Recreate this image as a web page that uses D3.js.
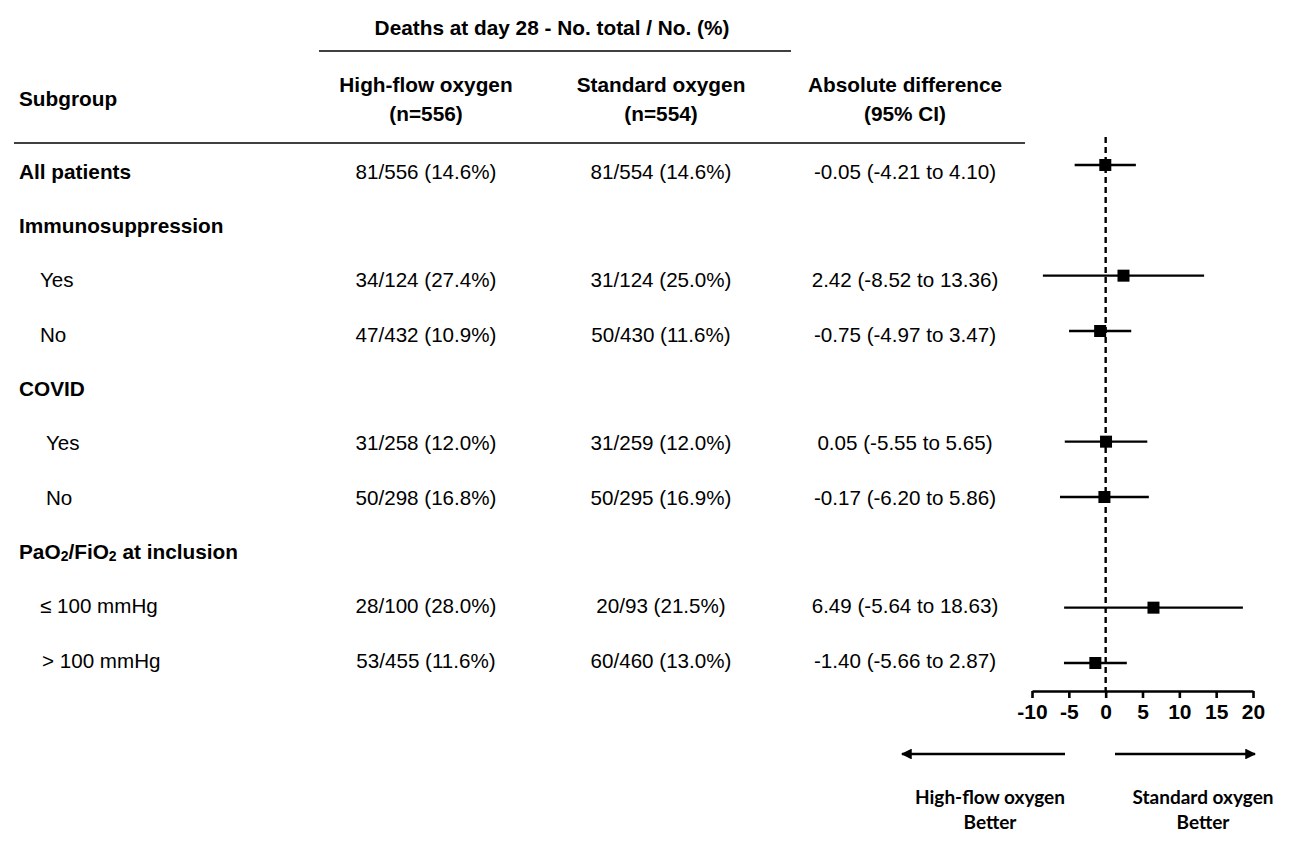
<!DOCTYPE html>
<html><head><meta charset="utf-8">
<script src="https://cdn.jsdelivr.net/npm/d3@7"></script>
<style>body{margin:0;background:#fff}svg{display:block}</style>
</head><body>
<svg id="c" width="1300" height="844"></svg>
<script>
const labels = ["All patients","Immunosuppression","Yes","No","COVID","Yes","No","PaO2/FiO2 at inclusion","≤ 100 mmHg","> 100 mmHg"];
const isHeader = [true,true,false,false,true,false,false,true,false,false];
const indent = [0,0,21,21,0,27,27,0,21,23];
const hfoDeaths = [81,null,34,47,null,31,50,null,28,53];
const hfoTotal  = [556,null,124,432,null,258,298,null,100,455];
const stdDeaths = [81,null,31,50,null,31,50,null,20,60];
const stdTotal  = [554,null,124,430,null,259,295,null,93,460];
const estimate  = [-0.05,null,2.42,-0.75,null,0.05,-0.17,null,6.49,-1.40];
const lower     = [-4.21,null,-8.52,-4.97,null,-5.55,-6.20,null,-5.64,-5.66];
const upper     = [4.10,null,13.36,3.47,null,5.65,5.86,null,18.63,2.87];
const ticks = [-10,-5,0,5,10,15,20];

const svg = d3.select("#c");
const F = "'Liberation Sans', Arial, sans-serif";
const FS = 20.6, FB = 20.8;
const x = d3.scaleLinear().domain([-10,20]).range([1032,1253]);
const y = d3.scalePoint().domain(d3.range(labels.length)).range([171,660]);
const yMark = d3.scalePoint().domain(d3.range(labels.length)).range([165,663]);

// headers
svg.append("text").attr("x",552).attr("y",27).attr("text-anchor","middle").attr("dominant-baseline","central")
  .attr("font-family",F).attr("font-weight","bold").attr("font-size",FB).text("Deaths at day 28 - No. total / No. (%)");
svg.append("line").attr("x1",319).attr("x2",791).attr("y1",51).attr("y2",51).attr("stroke","#000").attr("stroke-width",1.6);
svg.append("text").attr("x",19).attr("y",98).attr("dominant-baseline","central")
  .attr("font-family",F).attr("font-weight","bold").attr("font-size",FB).text("Subgroup");
const heads = [[426,"High-flow oxygen","(n=556)"],[661,"Standard oxygen","(n=554)"],[905,"Absolute difference","(95% CI)"]];
heads.forEach(h=>{
  svg.append("text").attr("x",h[0]).attr("y",84).attr("text-anchor","middle").attr("dominant-baseline","central")
    .attr("font-family",F).attr("font-weight","bold").attr("font-size",FB).text(h[1]);
  svg.append("text").attr("x",h[0]).attr("y",113).attr("text-anchor","middle").attr("dominant-baseline","central")
    .attr("font-family",F).attr("font-weight","bold").attr("font-size",FB).text(h[2]);
});
svg.append("line").attr("x1",14).attr("x2",1025).attr("y1",143).attr("y2",143).attr("stroke","#000").attr("stroke-width",1.6);

// rows
const pct = (a,b)=> `${a}/${b} (${(a/b*100).toFixed(1)}%)`;
labels.forEach((l,i)=>{
  const t = svg.append("text").attr("x",19+indent[i]).attr("y",y(i)).attr("dominant-baseline","central")
    .attr("font-family",F).attr("font-size",isHeader[i]?FB:FS).attr("font-weight",isHeader[i]?"bold":"normal");
  if (l.startsWith("PaO2")) {
    t.append("tspan").text("PaO");
    t.append("tspan").attr("font-size",14).attr("dy",5).text("2");
    t.append("tspan").attr("dy",-5).text("/FiO");
    t.append("tspan").attr("font-size",14).attr("dy",5).text("2");
    t.append("tspan").attr("dy",-5).text(" at inclusion");
  } else t.text(l);
  if (hfoDeaths[i]!=null) {
    svg.append("text").attr("x",426).attr("y",y(i)).attr("text-anchor","middle").attr("dominant-baseline","central")
      .attr("font-family",F).attr("font-size",FS).text(pct(hfoDeaths[i],hfoTotal[i]));
    svg.append("text").attr("x",661).attr("y",y(i)).attr("text-anchor","middle").attr("dominant-baseline","central")
      .attr("font-family",F).attr("font-size",FS).text(pct(stdDeaths[i],stdTotal[i]));
    svg.append("text").attr("x",905).attr("y",y(i)).attr("text-anchor","middle").attr("dominant-baseline","central")
      .attr("font-family",F).attr("font-size",FS)
      .text(`${estimate[i].toFixed(2)} (${lower[i].toFixed(2)} to ${upper[i].toFixed(2)})`);
  }
});

// zero line
svg.append("line").attr("x1",x(0)).attr("x2",x(0)).attr("y1",137).attr("y2",691)
  .attr("stroke","#000").attr("stroke-width",2.4).attr("stroke-dasharray","6,4");

// CIs & markers
const idx = d3.range(labels.length).filter(i=>estimate[i]!=null);
svg.selectAll("line.ci").data(idx).join("line").attr("class","ci")
  .attr("x1",i=>x(lower[i])).attr("x2",i=>x(upper[i])).attr("y1",i=>yMark(i)).attr("y2",i=>yMark(i))
  .attr("stroke","#000").attr("stroke-width",2.3);
svg.selectAll("rect.pt").data(idx).join("rect").attr("class","pt")
  .attr("x",i=>x(estimate[i])-6).attr("y",i=>yMark(i)-6).attr("width",12).attr("height",12).attr("fill","#000");

// axis
const ax = svg.append("g").attr("transform","translate(0,691)")
  .call(d3.axisBottom(x).tickValues(ticks).tickFormat(d=>String(d)).tickSize(7).tickSizeOuter(0).tickPadding(6));
ax.select(".domain").attr("stroke-width",2.6);
ax.selectAll(".tick line").attr("stroke-width",2.6);
ax.selectAll(".tick text").attr("font-family",F).attr("font-weight","bold").attr("font-size",21).attr("fill","#000");

// arrows
const defs = svg.append("defs");
defs.append("marker").attr("id","ah").attr("viewBox","0 0 10 10").attr("refX",9).attr("refY",5)
  .attr("markerWidth",4.5).attr("markerHeight",4.5).attr("markerUnits","strokeWidth").attr("orient","auto")
  .append("path").attr("d","M0,0L10,5L0,10Z").attr("fill","#000");
svg.append("line").attr("x1",1065).attr("x2",902).attr("y1",754).attr("y2",754).attr("stroke","#000").attr("stroke-width",2.4).attr("marker-end","url(#ah)");
svg.append("line").attr("x1",1115).attr("x2",1255).attr("y1",754).attr("y2",754).attr("stroke","#000").attr("stroke-width",2.4).attr("marker-end","url(#ah)");
const LF = "Lato, 'Open Sans', sans-serif";
[[990,"High-flow oxygen"],[1203,"Standard oxygen"]].forEach(a=>{
  svg.append("text").attr("x",a[0]).attr("y",796).attr("text-anchor","middle").attr("dominant-baseline","central")
    .attr("font-family",LF).attr("font-weight","bold").attr("font-size",19).text(a[1]);
  svg.append("text").attr("x",a[0]).attr("y",821).attr("text-anchor","middle").attr("dominant-baseline","central")
    .attr("font-family",LF).attr("font-weight","bold").attr("font-size",19).text("Better");
});
</script>
</body></html>
